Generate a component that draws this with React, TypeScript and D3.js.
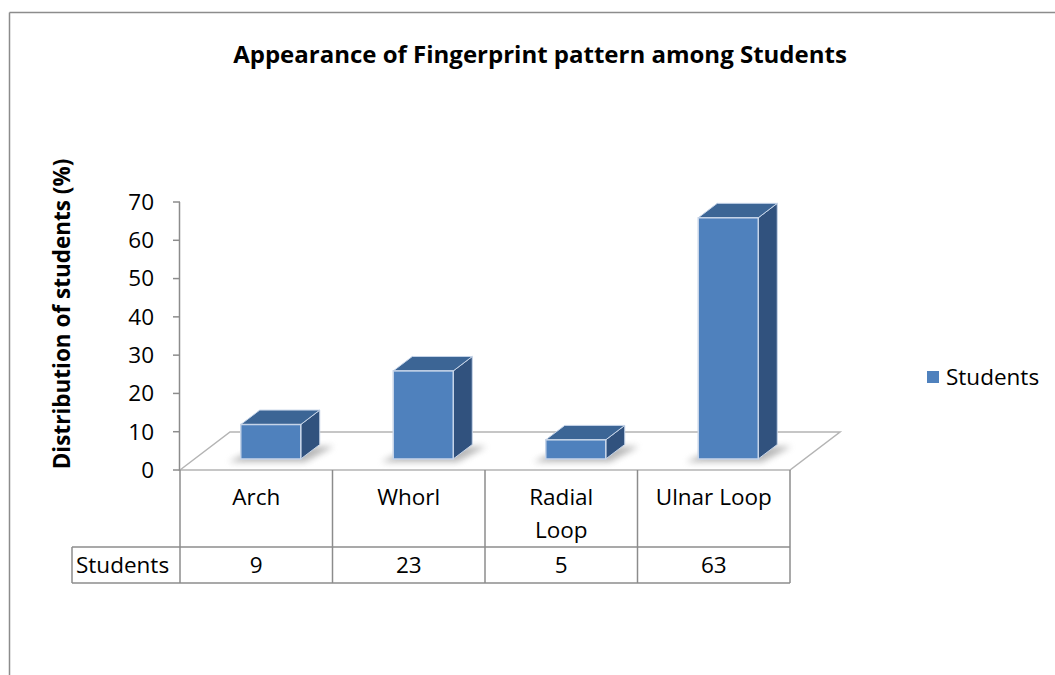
import React from 'react';
import * as d3 from 'd3';

const categories = ['Arch', 'Whorl', 'Radial Loop', 'Ulnar Loop'];
const categoryLines = [['Arch'], ['Whorl'], ['Radial', 'Loop'], ['Ulnar Loop']];
const studentValues = [9, 23, 5, 63];
const yTicks = [0, 10, 20, 30, 40, 50, 60, 70];
const seriesName = 'Students';

const font = '"Open Sans", "Noto Sans", sans-serif';

const App = () => {
    const width = 1055;
    const height = 675;

    const x = d3.scaleBand<string>()
        .domain(categories)
        .range([180, 790])
        .padding(0);
    const y = d3.scaleLinear()
        .domain([0, 70])
        .range([470, 202]);

    // floor depth (3d offset)
    const depthX = 50;
    const depthY = -38;
    const barFront = 0.29;
    const barBack = 0.67;
    const barW = 60;

    const left = x.range()[0];
    const right = x.range()[1];
    const base = y(0);

    const tableTop = 547;
    const tableBottom = 583;
    const grey = '#8c8c8c';
    const fs = 22.5;

    return (
        <svg width={width} height={height} style={{ position: 'absolute', left: 0, top: 0 }}>
            <defs>
                <filter id="shadow" x="-30%" y="-100%" width="160%" height="300%">
                    <feGaussianBlur stdDeviation="3" />
                </filter>
            </defs>
            <rect x={0} y={0} width={width} height={height} fill="#fff" />
            {/* outer frame */}
            <line x1={9.5} y1={12.5} x2={width} y2={12.5} stroke={grey} strokeWidth={1.5} />
            <line x1={9.5} y1={12.5} x2={9.5} y2={height} stroke={grey} strokeWidth={1.5} />

            <text x={540} y={63} textAnchor="middle" fontFamily={font} fontWeight="bold" fontSize={24} fill="#000">
                Appearance of Fingerprint pattern among Students
            </text>

            {/* floor */}
            <polygon
                points={[
                    [left, base],
                    [left + depthX, base + depthY],
                    [right + depthX, base + depthY],
                    [right, base],
                ].map(p => p.join(',')).join(' ')}
                fill="#fff"
                stroke="#b4b4b4"
                strokeWidth={1.5}
            />

            {/* y axis */}
            <line x1={left - 0.5} y1={y(70)} x2={left - 0.5} y2={base} stroke={grey} strokeWidth={1.5} />
            {yTicks.map(t => (
                <g key={t}>
                    <line x1={left - 7} y1={y(t)} x2={left} y2={y(t)} stroke={grey} strokeWidth={1.5} />
                    <text x={left - 26} y={y(t)} dy="0.35em" textAnchor="end" fontFamily={font} fontSize={fs} fill="#000">
                        {t}
                    </text>
                </g>
            ))}
            <text
                transform={`translate(70,314) rotate(-90)`}
                textAnchor="middle"
                fontFamily={font}
                fontWeight="bold"
                fontSize={22.5}
                fill="#000"
            >
                Distribution of students (%)
            </text>

            {/* bars */}
            {categories.map((c, i) => {
                const v = studentValues[i];
                const cx = (x(c) as number) + x.bandwidth() / 2;
                const fx = cx - barW / 2 + barFront * depthX;
                const fb = base + barFront * depthY;
                const ft = y(v) + barFront * depthY;
                const ddx = (barBack - barFront) * depthX;
                const ddy = (barBack - barFront) * depthY;
                const pts = (arr: number[][]) => arr.map(p => p.join(',')).join(' ');
                return (
                    <g key={c}>
                        <polygon
                            points={pts([
                                [fx - 12, fb + 3],
                                [fx + barW + 4, fb + 3],
                                [fx + barW + ddx + 14, fb + ddy + 2],
                                [fx + ddx, fb + ddy + 2],
                            ])}
                            fill="#7f7f7f"
                            opacity={0.55}
                            filter="url(#shadow)"
                        />
                        {/* side */}
                        <polygon
                            points={pts([
                                [fx + barW, fb],
                                [fx + barW + ddx, fb + ddy],
                                [fx + barW + ddx, ft + ddy],
                                [fx + barW, ft],
                            ])}
                            fill="#31527e"
                            stroke="#c6d4e8"
                            strokeWidth={1}
                        />
                        {/* top */}
                        <polygon
                            points={pts([
                                [fx, ft],
                                [fx + barW, ft],
                                [fx + barW + ddx, ft + ddy],
                                [fx + ddx, ft + ddy],
                            ])}
                            fill="#3c6595"
                            stroke="#c6d4e8"
                            strokeWidth={1}
                        />
                        {/* front */}
                        <rect
                            x={fx}
                            y={ft}
                            width={barW}
                            height={fb - ft}
                            fill="#4f81bd"
                            stroke="#c6d4e8"
                            strokeWidth={1.5}
                        />
                    </g>
                );
            })}

            {/* data table */}
            <g stroke={grey} strokeWidth={1.5}>
                {[...categories.map(c => x(c) as number), right].map((px, i) => (
                    <line key={i} x1={px} y1={base} x2={px} y2={tableBottom} />
                ))}
                <line x1={72} y1={tableTop} x2={right} y2={tableTop} />
                <line x1={72} y1={tableBottom} x2={right} y2={tableBottom} />
                <line x1={72} y1={tableTop} x2={72} y2={tableBottom} />
            </g>
            {categories.map((c, i) => (
                <g key={c}>
                    {categoryLines[i].map((ln, j) => (
                        <text
                            key={j}
                            x={(x(c) as number) + x.bandwidth() / 2}
                            y={497 + j * 33}
                            dy="0.35em"
                            textAnchor="middle"
                            fontFamily={font}
                            fontSize={fs}
                            fill="#000"
                        >
                            {ln}
                        </text>
                    ))}
                    <text
                        x={(x(c) as number) + x.bandwidth() / 2}
                        y={(tableTop + tableBottom) / 2}
                        dy="0.35em"
                        textAnchor="middle"
                        fontFamily={font}
                        fontSize={fs}
                        fill="#000"
                    >
                        {studentValues[i]}
                    </text>
                </g>
            ))}
            <text x={76} y={(tableTop + tableBottom) / 2} dy="0.35em" fontFamily={font} fontSize={fs} fill="#000">
                {seriesName}
            </text>

            {/* legend */}
            <rect x={927} y={371} width={12} height={12} fill="#4f81bd" />
            <text x={946} y={377} dy="0.35em" fontFamily={font} fontSize={fs} fill="#000">
                {seriesName}
            </text>
        </svg>
    );
};

export default App;
